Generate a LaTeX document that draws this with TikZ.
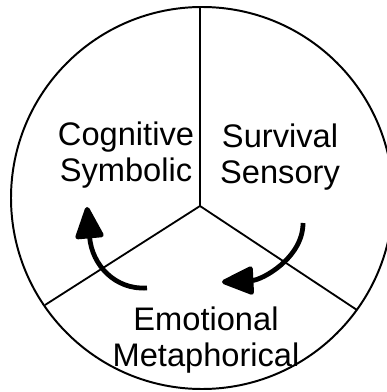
\documentclass[tikz,border=0pt]{standalone}
\usepackage{fontspec}
\setmainfont{Liberation Sans}
\usetikzlibrary{arrows.meta}

\begin{document}
\begin{tikzpicture}[x=0.025cm,y=-0.025cm,
  rim/.style={line width=1.4pt},
  spoke/.style={line width=1.3pt},
  cyclearrow/.style={line width=3.4pt,-{Triangle[length=0.88cm,width=0.74cm,round]}},
  sector/.style={align=center,inner sep=0pt,font=\fontsize{23.2}{25.5}\selectfont}]
\useasboundingbox (0,0) rectangle (386,392);

% wheel
\draw[rim] (202,198) circle (191);
\coordinate (hub) at (200,206);
\coordinate (top) at (200,7);
\coordinate (lowleft) at (45,305);
\coordinate (lowright) at (357,310);
\draw[spoke] (top) -- (hub);
\draw[spoke] (hub) -- (lowleft);
\draw[spoke] (hub) -- (lowright);

% labels
\node[sector] (cog) at (126,155) {Cognitive\\Symbolic};
\node[sector] (surv) at (280,157) {Survival\\Sensory};
\node[sector] (emo) at (206,340) {Emotional\\Metaphorical};

% cycle
\coordinate (s1) at (303,223);
\coordinate (t1) at (222,282);
\coordinate (s2) at (147,288);
\coordinate (t2) at (87,207);
\draw[cyclearrow] (s1) .. controls (303,258) and (262,280) .. (t1);
\draw[cyclearrow] (s2) .. controls (115,290) and (92,265) .. (t2);

\end{tikzpicture}
\end{document}
